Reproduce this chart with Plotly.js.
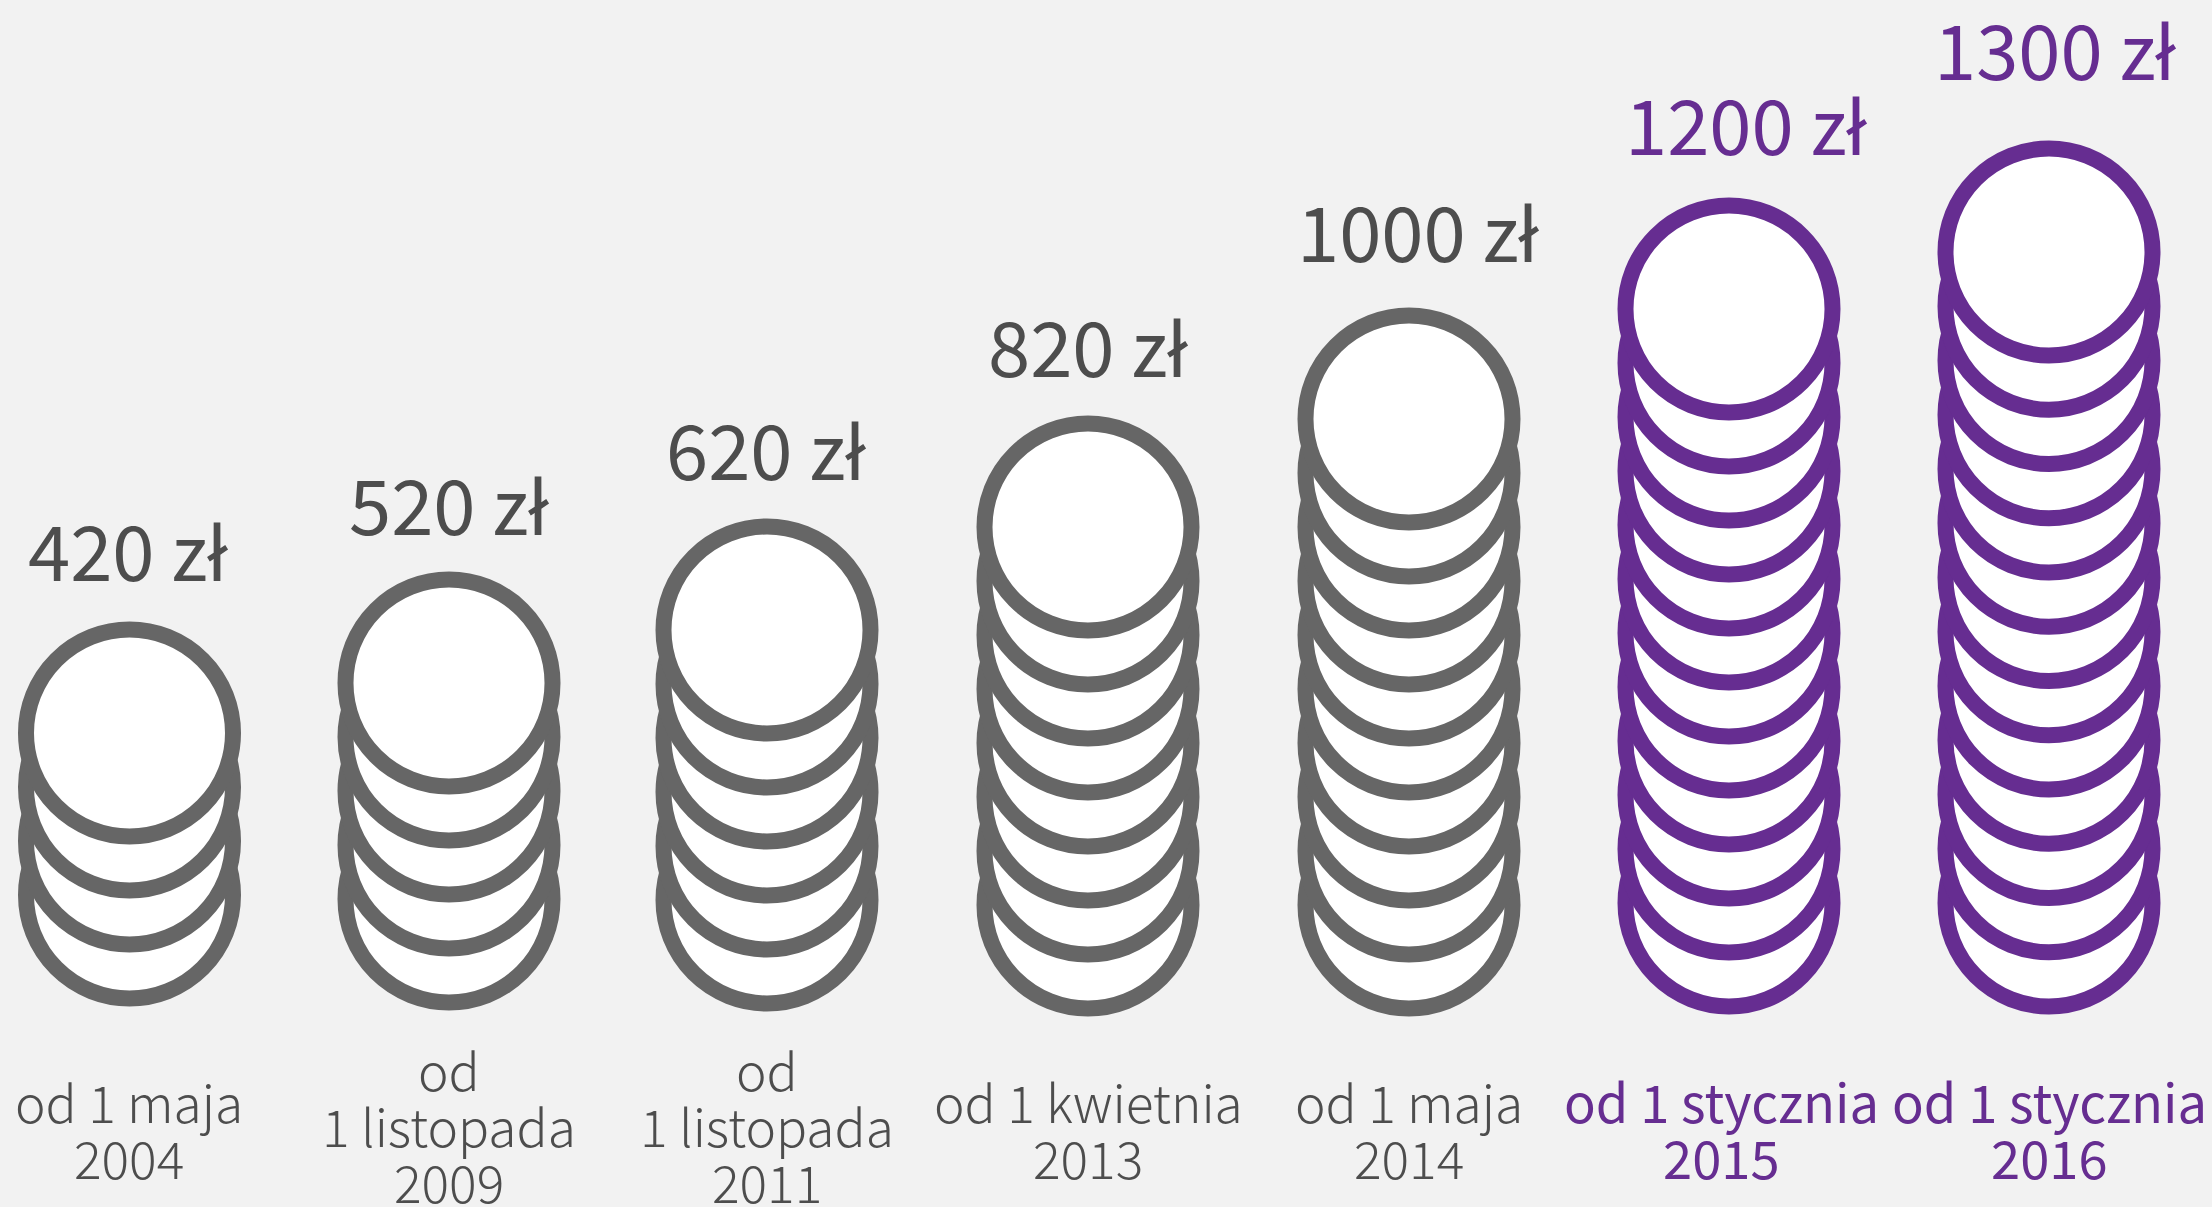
<!DOCTYPE html>
<html><head><meta charset="utf-8">
<script src="https://cdn.plot.ly/plotly-3.0.1.min.js"></script>
<style>html,body{margin:0;padding:0;background:#f2f2f2;overflow:hidden}</style>
</head><body><div id="chart" style="width:2212px;height:1207px"></div>
<script>
// Data
const amounts = [420, 520, 620, 820, 1000, 1200, 1300];
const amountLabels = ['420 zł', '520 zł', '620 zł', '820 zł', '1000 zł', '1200 zł', '1300 zł'];
const coinCounts = [4, 5, 6, 8, 10, 12, 13];
const dateLabels = [
  ['od 1 maja', '2004'],
  ['od', '1 listopada', '2009'],
  ['od', '1 listopada', '2011'],
  ['od 1 kwietnia', '2013'],
  ['od 1 maja', '2014'],
  ['od 1 stycznia', '2015'],
  ['od 1 stycznia', '2016']
];
const highlighted = [false, false, false, false, false, true, true];

// Layout of the pictogram, in page pixels
const stackX = [129.5, 449, 767, 1088, 1409, 1729, 2049];
const stackBaseY = [895, 899, 900, 905, 905, 903, 903];
const coinStep = [54, 54, 54, 54, 54, 54, 54.25];
const amountX = [128, 449, 766, 1088, 1418, 1746, 2055];
const amountY = [548, 502, 447, 344, 229, 122, 47];
const dateX = [129, 449, 767, 1088, 1409, 1721, 2049];
const FONT = '"Noto Sans CJK JP", "Noto Sans", sans-serif';
const GREY = '#666666', TEXTGREY = '#4d4d4d', PURPLE = '#662d91';

const traces = coinCounts.map((n, s) => {
  const ys = [];
  for (let i = 0; i < n; i++) ys.push(stackBaseY[s] - i * coinStep[s]);
  return {
    type: 'scatter', mode: 'markers', cliponaxis: false, hoverinfo: 'skip',
    name: amountLabels[s],
    x: ys.map(() => stackX[s]), y: ys,
    marker: {symbol: 'circle', size: 207, color: '#ffffff',
      line: {width: 16, color: highlighted[s] ? PURPLE : GREY}}
  };
});

const annotations = [];
amountLabels.forEach((t, s) => {
  annotations.push({
    x: amountX[s], y: amountY[s],
    xref: 'x', yref: 'y', text: t, showarrow: false, xanchor: 'center', yanchor: 'middle',
    font: {family: FONT, size: 76, weight: 400, color: highlighted[s] ? PURPLE : TEXTGREY}
  });
});
dateLabels.forEach((lines, s) => {
  const top = lines.length === 3 ? 1068 : 1100;
  lines.forEach((t, i) => {
    annotations.push({
      x: dateX[s], y: top + i * 56, xref: 'x', yref: 'y', text: t, showarrow: false,
      xanchor: 'center', yanchor: 'middle',
      font: {family: FONT, size: highlighted[s] ? 52.5 : 51.5, weight: highlighted[s] ? 400 : 300, color: highlighted[s] ? PURPLE : TEXTGREY}
    });
  });
});

Plotly.newPlot('chart', traces, {
  width: 2212, height: 1207, margin: {l: 0, r: 0, t: 0, b: 0},
  paper_bgcolor: '#f2f2f2', plot_bgcolor: '#f2f2f2', showlegend: false,
  xaxis: {range: [0, 2212], visible: false, fixedrange: true},
  yaxis: {range: [1207, 0], visible: false, fixedrange: true},
  annotations
}, {staticPlot: true, displayModeBar: false});
</script></body></html>
